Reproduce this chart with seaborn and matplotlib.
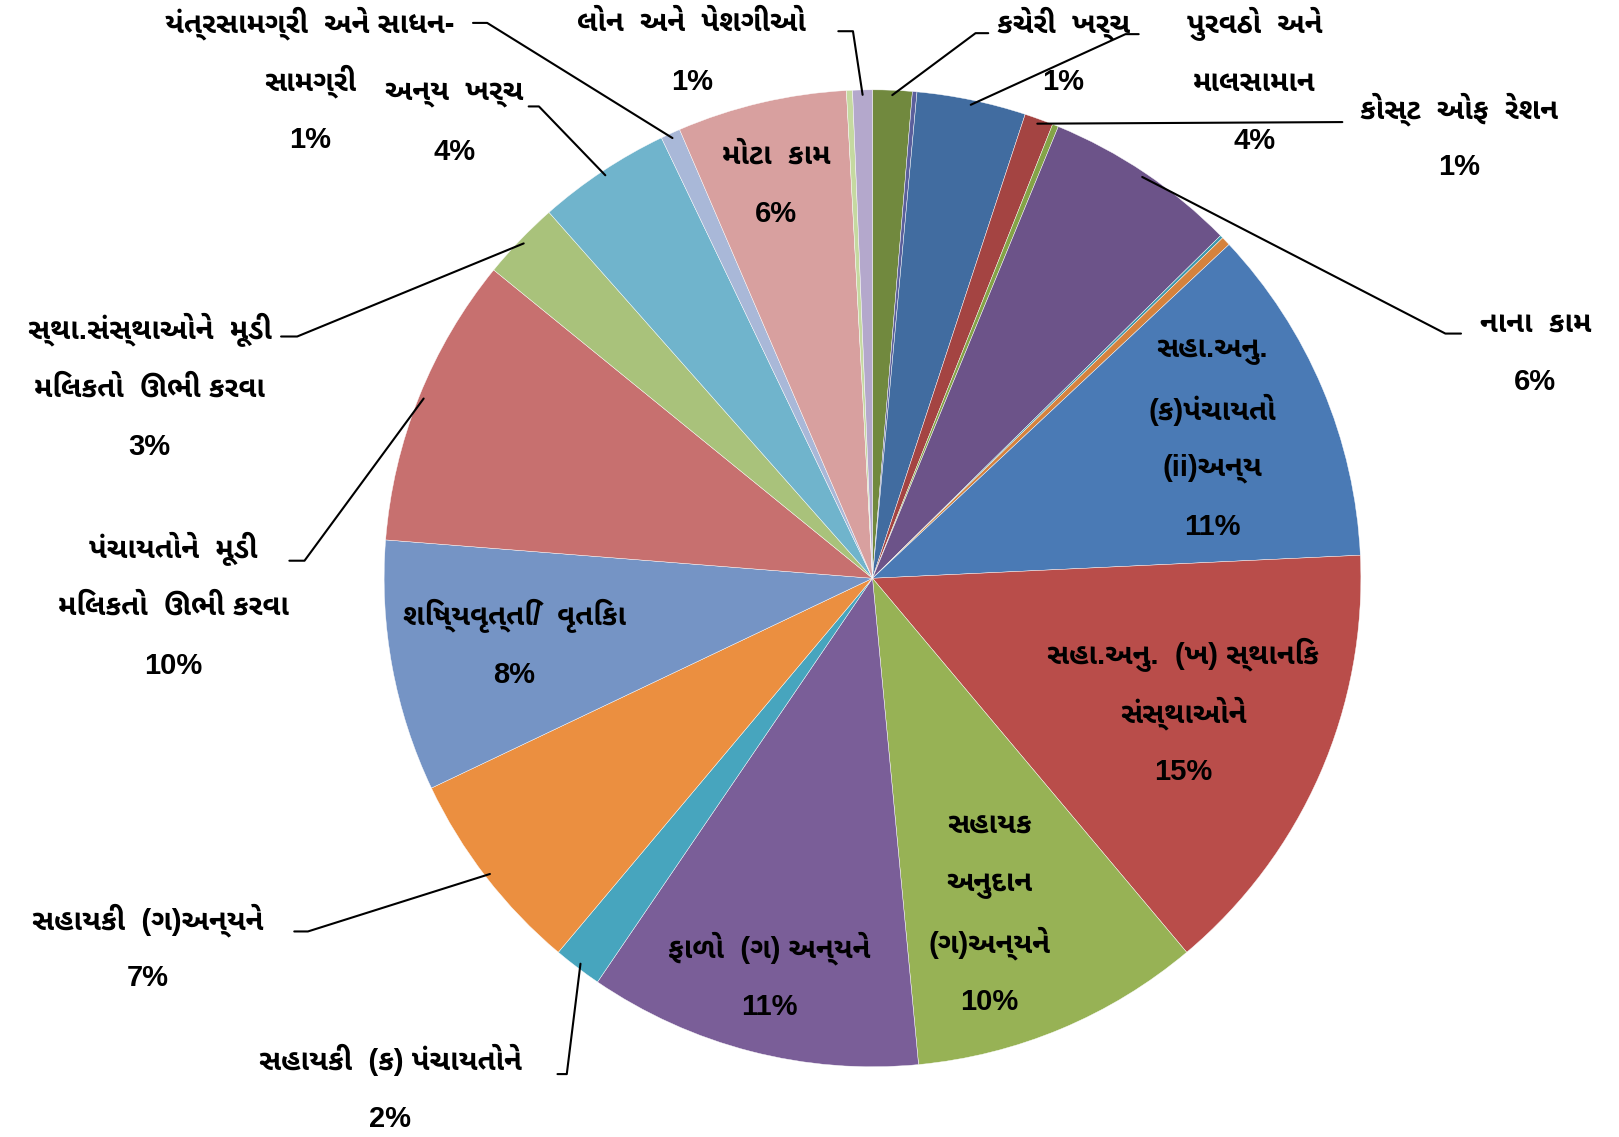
import numpy as np
import seaborn as sns
from matplotlib import pyplot as plt
from matplotlib import font_manager
from matplotlib.ft2font import FT2Font

# slices clockwise from 12 o'clock; empty names = tiny slices without a label
categories = ["કચેરી  ખર્ચ", "", "પુરવઠો  અને\nમાલસામાન", "કોસ્ટ  ઓફ  રેશન", "",
              "નાના  કામ", "", "", "સહા.અનુ.\n(ક)પંચાયતો\n(ii)અન્ય",
              "સહા.અનુ.  (ખ) સ્થાનિક\nસંસ્થાઓને", "સહાયક\nઅનુદાન\n(ગ)અન્યને",
              "ફાળો  (ગ) અન્યને", "સહાયકી  (ક) પંચાયતોને", "સહાયકી  (ગ)અન્યને",
              "શિષ્યવૃત્તિ/  વૃતિકા", "પંચાયતોને  મૂડી\nમિલકતો  ઊભી કરવા",
              "સ્થા.સંસ્થાઓને  મૂડી\nમિલકતો  ઊભી કરવા", "અન્ય  ખર્ચ",
              "યંત્રસામગ્રી  અને સાધન-\nસામગ્રી", "મોટા  કામ", "", "લોન  અને  પેશગીઓ"]
shares = [1.3, 0.15, 3.6, 0.95, 0.2, 6.4, 0.1, 0.3, 11.2, 14.6, 9.6, 11.0, 1.6, 6.8,
          8.3, 9.6, 2.6, 4.4, 0.65, 5.6, 0.2, 0.65]
colors = ["#71893e", "#5b5f9c", "#416ca0", "#a44442", "#84a447", "#6c5389", "#3d97ab",
          "#d5823d", "#4a7ab5", "#b94d4a", "#97b255", "#7a5e98", "#47a5be", "#eb8f40",
          "#7594c5", "#c7706f", "#a9c27b", "#70b4cc", "#a9b8d8", "#d8a09f", "#c5d9a0",
          "#b4a8cc"]

# label placement: index -> (text center, leader points from text to wedge)
inside = {19: (-0.197, 0.805), 8: (0.696, 0.285), 9: (0.636, -0.277),
          10: (0.239, -0.687), 11: (-0.211, -0.818), 14: (-0.734, -0.137)}
outside = {
    18: ((-1.152, 1.017), [(-0.818, 1.137), (-0.789, 1.137)]),
    21: ((-0.370, 1.076), [(-0.070, 1.120), (-0.040, 1.120)]),
    17: ((-0.856, 0.932), [(-0.704, 0.966), (-0.683, 0.966)]),
    0: ((0.391, 1.076), [(0.237, 1.116), (0.211, 1.116)]),
    2: ((0.782, 1.015), [(0.545, 1.114), (0.518, 1.114)]),
    3: ((1.201, 0.901), [(0.962, 0.934)]),
    5: ((1.357, 0.461), [(1.205, 0.501), (1.173, 0.501)]),
    16: ((-1.480, 0.389), [(-1.211, 0.495), (-1.178, 0.495)]),
    15: ((-1.431, -0.059), [(-1.194, 0.036), (-1.163, 0.036)]),
    13: ((-1.484, -0.759), [(-1.184, -0.723), (-1.156, -0.723)]),
    12: ((-0.987, -1.047), [(-0.645, -1.015), (-0.626, -1.015)]),
}
line_step = 0.12


def find_gujarati():
    found = []
    for f in font_manager.fontManager.ttflist:
        try:
            if 0x0A95 in FT2Font(f.fname).get_charmap():
                found.append(f)
        except Exception:
            pass
    if not found:
        return None
    found.sort(key=lambda f: -int(f.weight) if str(f.weight).isdigit() else 0)
    return found[0].name


sns.set_theme(style="white")
guj = find_gujarati()
fam = ["Liberation Sans"] + ([guj] if guj else []) + ["DejaVu Sans"]
plt.rcParams["font.family"] = fam

fig = plt.figure(figsize=(16.19, 11.37), dpi=100)
ax = fig.add_axes([0, 0, 1, 1])

wedges, _ = ax.pie(shares, colors=colors, startangle=90, counterclock=False,
                   radius=1, wedgeprops=dict(edgecolor="white", linewidth=0.3))

total = sum(shares)
for i, w in enumerate(wedges):
    if not categories[i]:
        continue
    lines = categories[i].split("\n") + [f"{round(shares[i] / total * 100)}%"]
    if i in inside:
        pos = inside[i]
    else:
        pos, pts = outside[i]
        mid = np.deg2rad((w.theta1 + w.theta2) / 2)
        r = 0.99
        xs = [p[0] for p in pts] + [r * np.cos(mid)]
        ys = [p[1] for p in pts] + [r * np.sin(mid)]
        ax.plot(xs, ys, color="black", lw=1.5)
    top = pos[1] + (len(lines) - 1) / 2 * line_step
    for k, s in enumerate(lines):
        ax.text(pos[0], top - k * line_step, s, ha="center", va="center",
                fontsize=21, fontweight="bold", color="black")

ax.set_xlim(-1.7865, 1.5285)
ax.set_ylim(-1.1438, 1.1839)
ax.set_aspect("auto")
ax.axis("off")

plt.savefig("out.png", dpi=100)
